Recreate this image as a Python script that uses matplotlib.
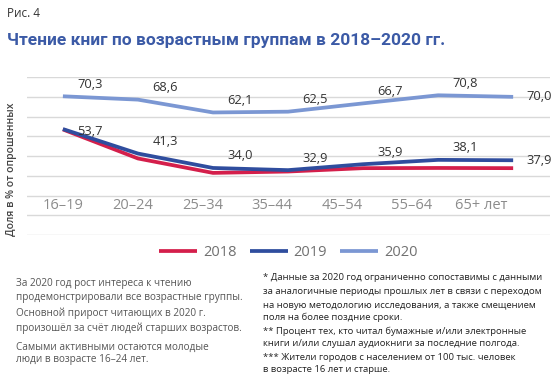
import numpy as np
import matplotlib
matplotlib.use('Agg')
import matplotlib.pyplot as plt

plt.rcParams['font.family'] = ['Open Sans', 'DejaVu Sans']

ages = ['16–19', '20–24', '25–34', '35–44', '45–54', '55–64', '65+ лет']
years = ['2018', '2019', '2020']
v2018 = [53.5, 38.8, 31.5, 32.2, 33.9, 34.0, 33.9]
v2019 = [53.7, 41.3, 34.0, 32.9, 35.9, 38.1, 37.9]
v2020 = [70.3, 68.6, 62.1, 62.5, 66.7, 70.8, 70.0]
label_2019 = ['53,7', '41,3', '34,0', '32,9', '35,9', '38,1', '37,9']
label_2020 = ['70,3', '68,6', '62,1', '62,5', '66,7', '70,8', '70,0']

colors = ['#d41f4b', '#2f4d9e', '#7b97d3']
title_blue = '#3b5aa6'

fig = plt.figure(figsize=(5.6, 3.78), dpi=100)
ax = fig.add_axes([0.048, 0.378, 0.934, 0.418])

x = np.arange(len(ages))
for vals, c, lab in zip([v2018, v2019, v2020], colors, years):
    ax.plot(x, vals, color=c, lw=2.7, solid_capstyle='butt', label=lab)

# value labels: shifted to the right of each point like in the source layout
for i, (v, t) in enumerate(zip(v2020, label_2020)):
    if i == len(x) - 1:
        off = (26, 0)
    else:
        off = (27, 12)
    ax.annotate(t, (x[i], v), xytext=off, textcoords='offset pixels',
                ha='center', va='center', fontsize=9.3, color='#333333')
for i, (v, t) in enumerate(zip(v2019, label_2019)):
    if i == 0:
        off = (27, -2)
    elif i == len(x) - 1:
        off = (26, 0)
    else:
        off = (27, 12)
    ax.annotate(t, (x[i], v), xytext=off, textcoords='offset pixels',
                ha='center', va='center', fontsize=9.3, color='#333333')

ax.set_xlim(-0.48, 6.49)
ax.set_ylim(0, 80)
ax.set_yticks(np.arange(0, 81, 10))
ax.set_xticks([])
ax.yaxis.grid(True, color='#d9d9d9', lw=1)
ax.tick_params(axis='y', length=0, labelleft=False)
for s in ax.spines.values():
    s.set_visible(False)
ax.set_axisbelow(True)

# age group labels sit between the 10 and 20 gridlines
for i, a in enumerate(ages):
    ax.text(i * 0.93, 15, a, ha='center', va='center', fontsize=10.5,
            color='#8c8c8c')

fig.text(0.021, 0.553, 'Доля в % от опрошенных', rotation=90, ha='center',
         va='center', fontsize=7.5, color='#444444', fontweight='semibold')

leg = fig.legend(loc='center', bbox_to_anchor=(0.515, 0.333), ncol=3,
                 frameon=False, fontsize=10.5, handlelength=2.6,
                 columnspacing=0.9, handletextpad=0.4)
for t in leg.get_texts():
    t.set_color('#707070')

fig.text(0.012, 0.965, 'Рис. 4', fontsize=8.5, color='#333333', va='center')
fig.text(0.012, 0.892, 'Чтение книг по возрастным группам в 2018–2020 гг.',
         fontsize=12.5, fontweight='bold', color=title_blue, va='center',
         family=['Roboto', 'DejaVu Sans'])

left_lines = [
    ('За 2020 год рост интереса к чтению', 0.251),
    ('продемонстрировали все возрастные группы.', 0.214),
    ('Основной прирост читающих в 2020 г.', 0.172),
    ('произошёл за счёт людей старших возрастов.', 0.132),
    ('Самыми активными остаются молодые', 0.082),
    ('люди в возрасте 16–24 лет.', 0.050),
]
for t, yy in left_lines:
    fig.text(0.029, yy, t, fontsize=7.2, color='#555555', va='center')

notes = [
    '* Данные за 2020 год ограниченно сопоставимы с данными',
    'за аналогичные периоды прошлых лет в связи с переходом',
    'на новую методологию исследования, а также смещением',
    'поля на более поздние сроки.',
    '** Процент тех, кто читал бумажные и/или электронные',
    'книги и/или слушал аудиокниги за последние полгода.',
    '*** Жители городов с населением от 100 тыс. человек',
    'в возрасте 16 лет и старше.',
]
note_y = [278, 292, 305, 317, 331, 344, 357, 369]
for t, yy in zip(notes, note_y):
    fig.text(0.470, 1 - yy / 378, t, fontsize=6.8, color='#222222',
             va='center')

fig.savefig('out.png', dpi=100)
